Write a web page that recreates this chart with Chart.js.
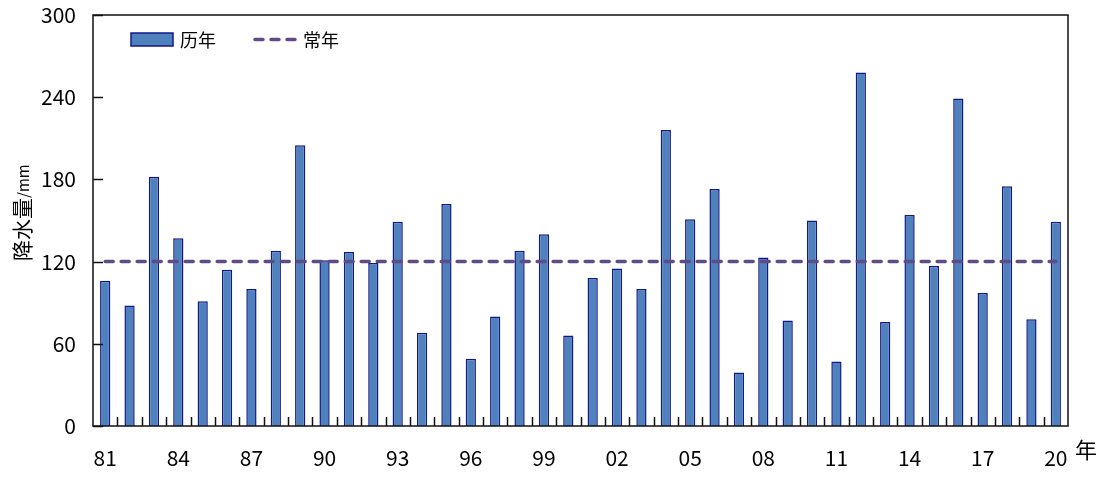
<!DOCTYPE html>
<html>
<head>
<meta charset="utf-8">
<script src="https://cdn.jsdelivr.net/npm/chart.js@4"></script>
<style>
  html, body { margin: 0; padding: 0; background: #fff; }
  #wrap { width: 1105px; height: 477px; position: relative; }
</style>
</head>
<body>
<div id="wrap"><canvas id="rainChart"></canvas></div>
<script>
// 降水量 data (1981-2020)
const years = ['81','82','83','84','85','86','87','88','89','90',
               '91','92','93','94','95','96','97','98','99','00',
               '01','02','03','04','05','06','07','08','09','10',
               '11','12','13','14','15','16','17','18','19','20'];
const rainfall = [106, 88, 182, 137, 91, 114, 100, 128, 205, 121,
                  127, 119, 149, 68, 162, 49, 80, 128, 140, 66,
                  108, 115, 100, 216, 151, 173, 39, 123, 77, 150,
                  47, 258, 76, 154, 117, 239, 97, 175, 78, 149];
const normalValue = 120;
const normalLine = years.map(() => normalValue);
const yTicks = [0, 60, 120, 180, 240, 300];

const FONT = '"Noto Sans CJK SC", "Noto Sans", sans-serif';
const BAR_FILL = '#4F81BD';
const BAR_EDGE = '#10188A';
const LINE_COLOR = '#5E4C84';

// frame, inward ticks, legend and axis titles
const decorPlugin = {
    id: 'decor',
    afterDraw(chart) {
        const ctx = chart.ctx;
        const area = chart.chartArea;
        const x = chart.scales.x;
        const y = chart.scales.y;
        ctx.save();

        // inward tick marks on x axis (category boundaries)
        ctx.strokeStyle = '#111';
        ctx.lineWidth = 1.5;
        ctx.beginPath();
        for (let i = 0; i < years.length - 1; i++) {
            const px = Math.round((x.getPixelForValue(i) + x.getPixelForValue(i + 1)) / 2) + 0.5;
            ctx.moveTo(px, area.bottom);
            ctx.lineTo(px, area.bottom - 9);
        }
        // inward ticks on y axis
        yTicks.forEach(v => {
            const py = Math.round(y.getPixelForValue(v)) + 0.5;
            ctx.moveTo(area.left, py);
            ctx.lineTo(area.left + 10, py);
        });
        ctx.stroke();

        // plot frame
        ctx.lineWidth = 1.5;
        ctx.strokeStyle = '#111';
        ctx.strokeRect(area.left, area.top, area.right - area.left, area.bottom - area.top);

        // legend
        ctx.fillStyle = BAR_FILL;
        ctx.fillRect(131, 33, 42, 13);
        ctx.strokeStyle = BAR_EDGE;
        ctx.lineWidth = 1.5;
        ctx.strokeRect(131, 33, 42, 13);
        ctx.fillStyle = '#000';
        ctx.font = '18px ' + FONT;
        ctx.textBaseline = 'middle';
        ctx.textAlign = 'left';
        ctx.fillText('历年', 180, 40);

        ctx.strokeStyle = LINE_COLOR;
        ctx.lineWidth = 3.5;
        ctx.lineCap = 'round';
        ctx.setLineDash([8, 8]);
        ctx.beginPath();
        ctx.moveTo(255, 39.5);
        ctx.lineTo(296, 39.5);
        ctx.stroke();
        ctx.setLineDash([]);
        ctx.fillText('常年', 303, 40);

        // x unit
        ctx.font = '22px ' + FONT;
        ctx.fillText('年', 1075, 450);

        // y title, rotated
        ctx.translate(22, 220);
        ctx.rotate(-Math.PI / 2);
        ctx.textAlign = 'left';
        ctx.font = '21px ' + FONT;
        ctx.fillText('降水量', -41, 0);
        const w = ctx.measureText('降水量').width;
        ctx.font = '15px ' + FONT;
        ctx.fillText('/mm', -41 + w, 1);

        ctx.restore();
    }
};

new Chart(document.getElementById('rainChart'), {
    data: {
        labels: years,
        datasets: [
            {
                type: 'line',
                label: '常年',
                data: normalLine,
                borderColor: LINE_COLOR,
                borderWidth: 3.5,
                borderDash: [8, 8],
                borderCapStyle: 'round',
                pointRadius: 0,
                fill: false,
                order: 0
            },
            {
                type: 'bar',
                label: '历年',
                data: rainfall,
                backgroundColor: BAR_FILL,
                borderColor: BAR_EDGE,
                borderWidth: 1.5,
                barPercentage: 0.42,
                categoryPercentage: 1.0,
                order: 1
            }
        ]
    },
    options: {
        responsive: true,
        maintainAspectRatio: false,
        animation: false,
        layout: { padding: { left: 0, right: 37, top: 15, bottom: 0 } },
        plugins: {
            legend: { display: false },
            tooltip: { enabled: false }
        },
        scales: {
            x: {
                offset: true,
                grid: { display: false, drawTicks: false },
                border: { display: false },
                ticks: {
                    autoSkip: false,
                    maxRotation: 0,
                    padding: 19,
                    color: '#000',
                    font: { family: FONT, size: 21 },
                    callback: function(value, index) {
                        return index % 3 === 0 ? years[index] : '';
                    }
                },
                afterFit: function(scale) {
                    scale.height = 51;
                    scale.paddingLeft = 0;
                    scale.paddingRight = 0;
                }
            },
            y: {
                min: 0,
                max: 300,
                grid: { display: false, drawTicks: false },
                border: { display: false },
                afterBuildTicks: function(scale) {
                    scale.ticks = yTicks.map(v => ({ value: v }));
                },
                ticks: {
                    padding: 17,
                    color: '#000',
                    font: { family: FONT, size: 21 }
                },
                afterFit: function(scale) {
                    scale.width = 93;
                    scale.paddingTop = 0;
                    scale.paddingBottom = 0;
                }
            }
        }
    },
    plugins: [decorPlugin]
});
</script>
</body>
</html>
